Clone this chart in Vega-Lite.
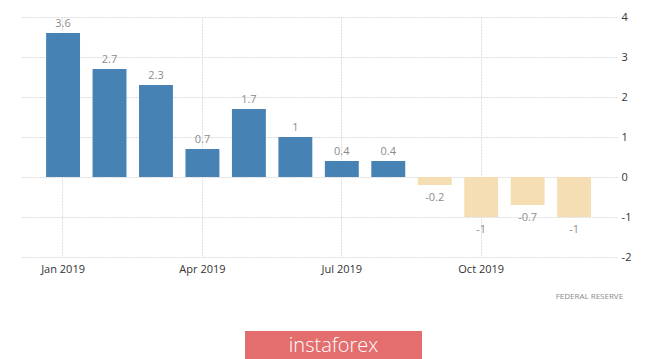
{
  "$schema": "https://vega.github.io/schema/vega-lite/v6.json",
  "background": "white",
  "padding": {"left": 20, "top": 11, "right": 5, "bottom": 1},
  "config": {"view": {"stroke": null}, "font": "Open Sans"},
  "spacing": 30,
  "center": true,
  "vconcat": [
    {
      "width": 597,
      "height": 240,
      "title": {"text": "FEDERAL RESERVE", "orient": "bottom", "anchor": "end", "frame": "group", "dx": 6, "fontSize": 8, "font": "Open Sans", "fontWeight": "normal", "color": "#8a8a8a", "offset": 19},
      "data": {"values": [
        {"month": "Jan 2019", "value": 3.6},
        {"month": "Feb 2019", "value": 2.7},
        {"month": "Mar 2019", "value": 2.3},
        {"month": "Apr 2019", "value": 0.7},
        {"month": "May 2019", "value": 1.7},
        {"month": "Jun 2019", "value": 1},
        {"month": "Jul 2019", "value": 0.4},
        {"month": "Aug 2019", "value": 0.4},
        {"month": "Sep 2019", "value": -0.2},
        {"month": "Oct 2019", "value": -1},
        {"month": "Nov 2019", "value": -0.7},
        {"month": "Dec 2019", "value": -1}
      ]},
      "encoding": {
        "x": {"field": "month", "type": "ordinal", "sort": null,
          "scale": {"paddingInner": 0.27, "paddingOuter": 0.56},
          "axis": {"title": null, "values": ["Jan 2019", "Apr 2019", "Jul 2019", "Oct 2019"], "grid": true, "bandPosition": 0.5, "gridColor": "#dcdcdc", "gridDash": [2, 1], "domain": false, "ticks": false, "labelAngle": 0, "labelFontSize": 11, "labelColor": "#333", "labelPadding": 6}},
        "y": {"field": "value", "type": "quantitative",
          "scale": {"domain": [-2, 4], "nice": false},
          "axis": {"title": null, "orient": "right", "values": [-2, -1, 0, 1, 2, 3, 4], "labelExpr": "'' + datum.value", "grid": true, "gridColor": "#dcdcdc", "gridDash": [2, 1], "domain": false, "ticks": false, "labelFontSize": 11, "labelColor": "#333", "labelPadding": 4}}
      },
      "layer": [
        {
          "mark": {"type": "bar"},
          "encoding": {
            "color": {"condition": {"test": "datum.value >= 0", "value": "#4682B4"}, "value": "#F5DEB3"}
          }
        },
        {
          "transform": [{"filter": "datum.value >= 0"}],
          "mark": {"type": "text", "baseline": "bottom", "dy": -4, "fontSize": 11, "color": "#8c8c8c", "text": {"expr": "'' + datum.value"}}
        },
        {
          "transform": [{"filter": "datum.value < 0"}],
          "mark": {"type": "text", "baseline": "top", "dy": 7, "fontSize": 11, "color": "#8c8c8c", "text": {"expr": "'' + datum.value"}}
        }
      ]
    },
    {
      "width": 193,
      "height": 30,
      "data": {"values": [{"brand": "instaforex", "start": 0, "end": 177, "mid": 88.5}]},
      "encoding": {
        "x": {"field": "start", "type": "quantitative", "scale": {"domain": [-16, 177], "nice": false, "zero": false}, "axis": null}
      },
      "layer": [
        {"mark": {"type": "rect", "color": "#E46E6E"}, "encoding": {"x2": {"field": "end"}}},
        {"mark": {"type": "text", "color": "white", "fontSize": 20, "font": "Open Sans", "fontWeight": 300}, "encoding": {"x": {"field": "mid", "type": "quantitative"}, "text": {"field": "brand"}}}
      ]
    }
  ]
}
